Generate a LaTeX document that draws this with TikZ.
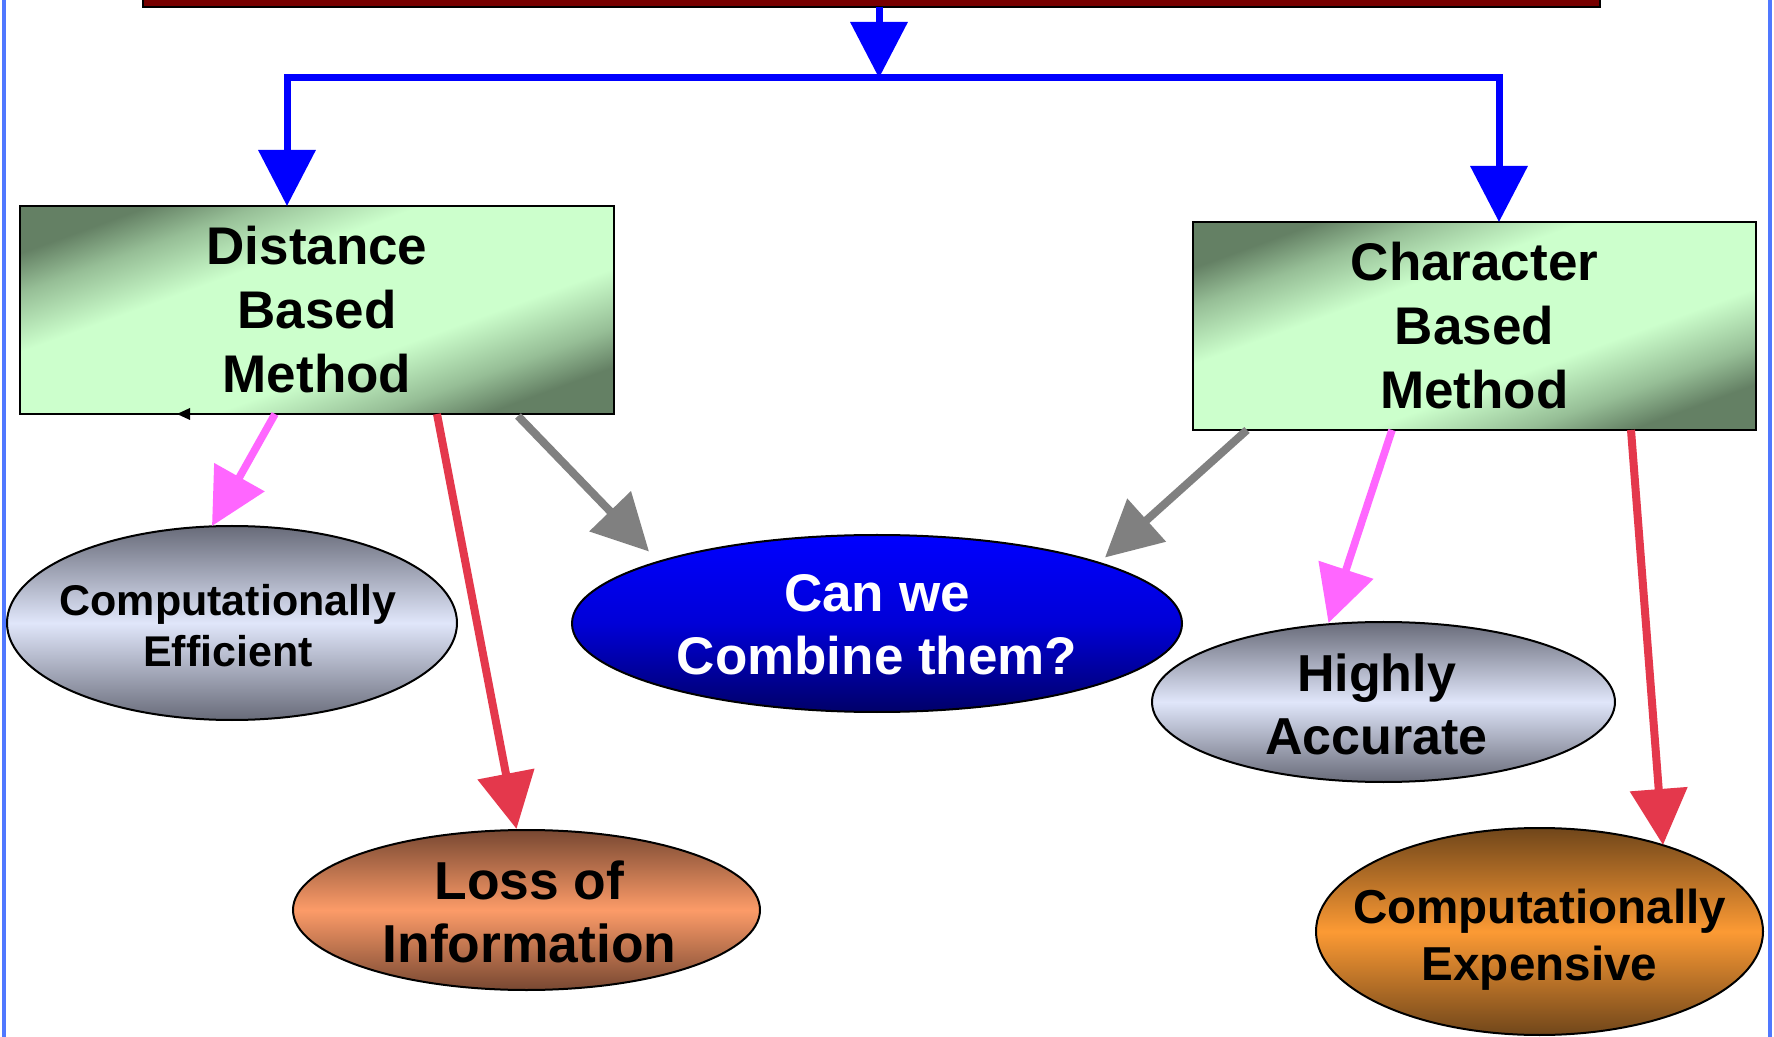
\documentclass[tikz,border=0pt]{standalone}
\usepackage{fontspec}
\setmainfont{Liberation Sans}
\usetikzlibrary{arrows.meta,shapes.geometric,calc}
\definecolor{gdk}{RGB}{100,128,100}
\definecolor{gmd}{RGB}{150,190,150}
\definecolor{glt}{RGB}{204,255,204}
\definecolor{slatedk}{RGB}{104,107,121}
\definecolor{slatelt}{RGB}{224,230,250}
\definecolor{lossdk}{RGB}{120,72,50}
\definecolor{losslt}{RGB}{252,155,104}
\definecolor{expdk}{RGB}{112,70,26}
\definecolor{explt}{RGB}{252,154,52}
\definecolor{combtop}{RGB}{0,0,255}
\definecolor{combmid}{RGB}{0,0,215}
\definecolor{combbot}{RGB}{0,0,105}
\definecolor{pinkc}{RGB}{255,102,255}
\definecolor{redc}{RGB}{228,56,76}
\definecolor{grayc}{RGB}{128,128,128}
\definecolor{barred}{RGB}{119,0,0}
\definecolor{edgeblue}{RGB}{80,120,255}
\pgfdeclareverticalshading{boxshade}{100bp}{color(0bp)=(gdk); color(25bp)=(gdk); color(31bp)=(gmd); color(40bp)=(glt); color(60bp)=(glt); color(69bp)=(gmd); color(75bp)=(gdk); color(100bp)=(gdk)}
\begin{document}
\begin{tikzpicture}[x=0.5pt,y=-0.5pt,
  methodbox/.style={rectangle, draw=black, line width=1pt, shading=boxshade, shading angle=20,
    inner sep=0pt, outer sep=0pt, align=center,
    font=\fontsize{26.5}{32}\selectfont\bfseries},
  oval/.style={ellipse, draw=black, line width=1pt, inner sep=0pt, outer sep=0pt},
  grayoval/.style={oval, top color=slatedk, bottom color=slatedk, middle color=slatelt},
  lab/.style 2 args={align=center, inner sep=0pt, font=\fontsize{#1}{#2}\selectfont\bfseries},
  tip/.style={-{Triangle[length=28pt,width=28pt]}},
  bluearrow/.style={tip, draw=blue, line width=3.5pt},
  pinkarrow/.style={tip, draw=pinkc, fill=pinkc, line width=3.8pt},
  redarrow/.style={tip, draw=redc, fill=redc, line width=4pt},
  grayarrow/.style={tip, draw=grayc, fill=grayc, line width=4pt}
]
\useasboundingbox (0,0) rectangle (1774,1037);
\fill[white] (0,0) rectangle (1774,1037);
% page edges
\draw[edgeblue, line width=1.6pt] (4,0) -- (4,1037);
\draw[edgeblue, line width=1.6pt] (1770,0) -- (1770,1037);

% top bar
\node[rectangle, draw=black, line width=1pt, fill=barred, minimum width=728.5pt, minimum height=19pt,
  inner sep=0pt, outer sep=0pt] (bar) at (871.5,-12) {};

% method boxes
\node[methodbox, minimum width=297pt, minimum height=104pt] (dist) at (317,310) {Distance\\Based\\Method};
\node[methodbox, minimum width=281.5pt, minimum height=104pt] (chr) at (1474.5,326) {Character\\Based\\Method};

% ovals
\node[grayoval, minimum width=225pt, minimum height=97pt,
  label={[lab={21.5}{25.5}, yshift=-1.5pt, xshift=-2pt]center:{Computationally\\Efficient}}] (eff) at (232,623) {};
\node[oval, top color=combtop, bottom color=combbot, middle color=combmid,
  minimum width=305pt, minimum height=88.5pt,
  label={[lab={26.5}{31.5}, text=white, yshift=-0.5pt]center:{Can we\\Combine them?}}] (comb) at (877,623.5) {};
\node[grayoval, minimum width=231.5pt, minimum height=80pt,
  label={[lab={26}{31.5}, xshift=-3.5pt, yshift=-1pt]center:{Highly\\Accurate}}] (high) at (1383.5,702) {};
\node[oval, top color=lossdk, bottom color=lossdk, middle color=losslt,
  minimum width=233.5pt, minimum height=80pt,
  label={[lab={26.7}{31.5}, xshift=1.5pt, yshift=-1pt]center:{Loss of\\Information}}] (loss) at (526.5,910) {};
\node[oval, top color=expdk, bottom color=expdk, middle color=explt,
  minimum width=223.5pt, minimum height=103.5pt,
  label={[lab={23.8}{28.5}, yshift=-4pt]center:{Computationally\\Expensive}}] (exp) at (1539.5,931.5) {};

% blue tree
\coordinate (junc) at (879,78);
\draw[bluearrow] ($(bar.south west)+(736,0)$) -- (junc);
\draw[bluearrow] (junc) -| ($(dist.north west)+(267,0)$);
\draw[bluearrow] (junc) -| ($(chr.north west)+(306,0)$);

% small black tip on the distance box edge
\fill[black] ($(dist.south west)+(157,0)$) -- ++(13,-6) -- ++(0,12) -- cycle;

% connectors
\draw[pinkarrow] ($(dist.south west)+(255,0)$) -- ($(eff.center)+(-20,-97)$);
\draw[redarrow] ($(dist.south west)+(417,0)$) -- ($(loss.center)+(-10,-81)$);
\draw[grayarrow] ($(dist.south west)+(498,2)$) -- ($(comb.center)+(-228,-72)$);
\draw[grayarrow] ($(chr.south west)+(54,0)$) -- ($(comb.center)+(228,-66)$);
\draw[pinkarrow] ($(chr.south west)+(199,0)$) -- ($(high.center)+(-55,-79)$);
\draw[redarrow] ($(chr.south west)+(438,0)$) -- ($(exp.center)+(123.5,-86.5)$);
\end{tikzpicture}
\end{document}
